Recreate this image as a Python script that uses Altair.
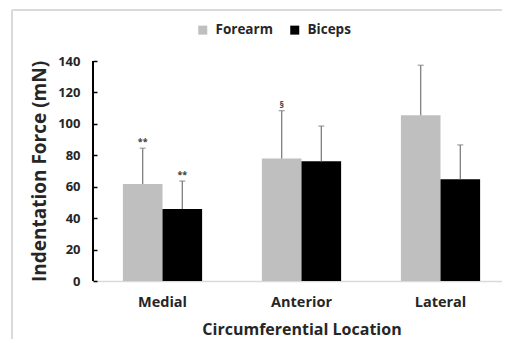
import altair as alt
import pandas as pd

categories = ["Medial", "Anterior", "Lateral"]
groups = ["Forearm", "Biceps"]
forearm_mean = [61.7, 77.9, 105.5]
forearm_sd = [22.8, 30.5, 31.8]
biceps_mean = [45.8, 76.2, 64.7]
biceps_sd = [17.8, 22.4, 21.9]
forearm_sig = ["**", "§", ""]
biceps_sig = ["**", "", ""]
y_ticks = [0, 20, 40, 60, 80, 100, 120, 140]

rows = []
for i, c in enumerate(categories):
    rows.append({"loc": c, "group": "Forearm", "mean": forearm_mean[i],
                 "top": forearm_mean[i] + forearm_sd[i], "sig": forearm_sig[i]})
    rows.append({"loc": c, "group": "Biceps", "mean": biceps_mean[i],
                 "top": biceps_mean[i] + biceps_sd[i], "sig": biceps_sig[i]})
df = pd.DataFrame(rows)

FONT = "Open Sans"
W, H = 409, 220

xaxis = alt.Axis(title="Circumferential Location", labelAngle=0, ticks=False,
                 domainColor="#d9d9d9", domainWidth=1.5,
                 labelFont=FONT, labelFontWeight="bold", labelFontSize=14.5,
                 labelColor="#262626", labelPadding=14,
                 titleFont=FONT, titleFontWeight="bold", titleFontSize=16,
                 titleColor="#262626", titlePadding=13)
xscale = alt.Scale(range=[0, 417], paddingInner=0.43, paddingOuter=0.215)
xenc = alt.X("loc:N", sort=categories, scale=xscale, axis=xaxis)
xoff = alt.XOffset("group:N", sort=groups, scale=alt.Scale(paddingInner=0, paddingOuter=0))

yscale = alt.Scale(domain=[0, 140])
yaxis = alt.Axis(title="Indentation Force (mN)", values=y_ticks,
                 labelOverlap=False,
                 grid=False, domain=False, tickColor="black", tickSize=4,
                 tickWidth=1.5, offset=-4,
                 labelFont=FONT, labelFontWeight="bold", labelFontSize=13,
                 labelColor="#262626", labelPadding=13,
                 titleFont=FONT, titleFontWeight="bold", titleFontSize=19,
                 titleColor="#262626", titlePadding=8)

bars = alt.Chart(df).mark_bar(strokeWidth=0).encode(
    x=xenc,
    xOffset=xoff,
    y=alt.Y("mean:Q", scale=yscale, axis=yaxis),
    color=alt.Color("group:N", sort=groups,
                    scale=alt.Scale(domain=groups, range=["#bfbfbf", "#000000"]),
                    legend=alt.Legend(title=None, orient="none", direction="horizontal",
                                      legendX=103, legendY=-38, symbolType="square",
                                      symbolSize=81, symbolStrokeWidth=0,
                                      labelFont=FONT, labelFontWeight="bold",
                                      labelFontSize=13.5, labelColor="#262626",
                                      labelOffset=6, columnPadding=15)),
)

err = alt.Chart(df).mark_rule(color="#7f7f7f", strokeWidth=1.3).encode(
    x=xenc,
    xOffset=xoff,
    y=alt.Y("mean:Q", scale=yscale, axis=yaxis),
    y2="top:Q",
)

caps = alt.Chart(df).mark_tick(color="#7f7f7f", thickness=1.3, size=6, orient="horizontal").encode(
    x=xenc,
    xOffset=xoff,
    y=alt.Y("top:Q", scale=yscale, axis=yaxis),
)

sig = alt.Chart(df).mark_text(font=FONT, fontWeight="bold", fontSize=9, color="#404040",
                              baseline="bottom", dy=-1).encode(
    x=xenc,
    xOffset=xoff,
    y=alt.Y("top:Q", scale=yscale, axis=yaxis),
    text="sig:N",
)

ydomain = alt.Chart(df).mark_rule(color="black", strokeWidth=1.5).encode(
    x=alt.value(0), y=alt.value(0), y2=alt.value(H)
)

frame_left = alt.Chart(df).mark_rule(color="#d9d9d9", strokeWidth=1).encode(
    x=alt.value(-81), y=alt.value(-51), y2=alt.value(400)
)
frame_top = alt.Chart(df).mark_rule(color="#d9d9d9", strokeWidth=1).encode(
    x=alt.value(-81), x2=alt.value(600), y=alt.value(-51)
)

chart = alt.layer(frame_left, frame_top, bars, err, caps, sig, ydomain).properties(
    width=W, height=H,
    autosize=alt.AutoSizeParams(type="none"),
    padding={"left": 85, "top": 53, "right": 0, "bottom": 58},
).configure_view(stroke=None)

chart.save("out.html", embed_options={"renderer": "svg", "actions": False})
